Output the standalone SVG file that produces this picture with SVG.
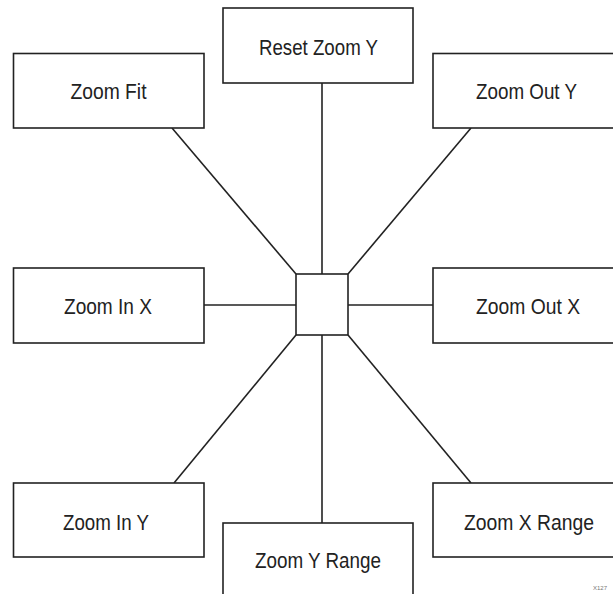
<svg xmlns="http://www.w3.org/2000/svg" width="613" height="594" viewBox="0 0 613 594">
<style>
.box{fill:#fff;stroke:#222;stroke-width:1.6}
.lbl{font-family:"Liberation Sans",Arial,sans-serif;font-size:22px;fill:#222;text-anchor:middle}
.conn line{stroke:#222;stroke-width:1.6}
</style>
<rect width="613" height="594" fill="#fff"/>
<g id="connectors" class="conn">
<line x1="322" y1="83" x2="322" y2="274"/>
<line x1="322" y1="335" x2="322" y2="523"/>
<line x1="204" y1="305" x2="296" y2="305"/>
<line x1="348" y1="305" x2="433" y2="305"/>
<line x1="172" y1="128" x2="296" y2="274"/>
<line x1="471" y1="128" x2="348" y2="274"/>
<line x1="174" y1="483" x2="296" y2="335"/>
<line x1="471" y1="483" x2="348" y2="335"/>
</g>
<g id="hub"><rect class="box" x="296" y="274" width="52" height="61"/></g>
<g id="reset-zoom-y"><rect class="box" x="223" y="8" width="190" height="75"/><text class="lbl" x="318.5" y="55" textLength="119" lengthAdjust="spacingAndGlyphs">Reset Zoom Y</text></g>
<g id="zoom-fit"><rect class="box" x="13.5" y="53.5" width="190.5" height="74.5"/><text class="lbl" x="108.5" y="99" textLength="76" lengthAdjust="spacingAndGlyphs">Zoom Fit</text></g>
<g id="zoom-out-y"><rect class="box" x="433" y="53.5" width="190" height="74.5"/><text class="lbl" x="526.5" y="99" textLength="101" lengthAdjust="spacingAndGlyphs">Zoom Out Y</text></g>
<g id="zoom-in-x"><rect class="box" x="13.5" y="268" width="190.5" height="75"/><text class="lbl" x="108" y="314" textLength="88" lengthAdjust="spacingAndGlyphs">Zoom In X</text></g>
<g id="zoom-out-x"><rect class="box" x="433" y="268" width="190" height="75"/><text class="lbl" x="528" y="314" textLength="104" lengthAdjust="spacingAndGlyphs">Zoom Out X</text></g>
<g id="zoom-in-y"><rect class="box" x="13.5" y="483" width="190.5" height="74"/><text class="lbl" x="106" y="530" textLength="86" lengthAdjust="spacingAndGlyphs">Zoom In Y</text></g>
<g id="zoom-y-range"><rect class="box" x="223" y="523" width="190" height="80"/><text class="lbl" x="318" y="568" textLength="126" lengthAdjust="spacingAndGlyphs">Zoom Y Range</text></g>
<g id="zoom-x-range"><rect class="box" x="433" y="483" width="190" height="74"/><text class="lbl" x="529" y="530" textLength="130" lengthAdjust="spacingAndGlyphs">Zoom X Range</text></g>
<text x="593" y="590" font-family="Liberation Sans,Arial,sans-serif" font-size="6" fill="#777">X127</text>
</svg>
